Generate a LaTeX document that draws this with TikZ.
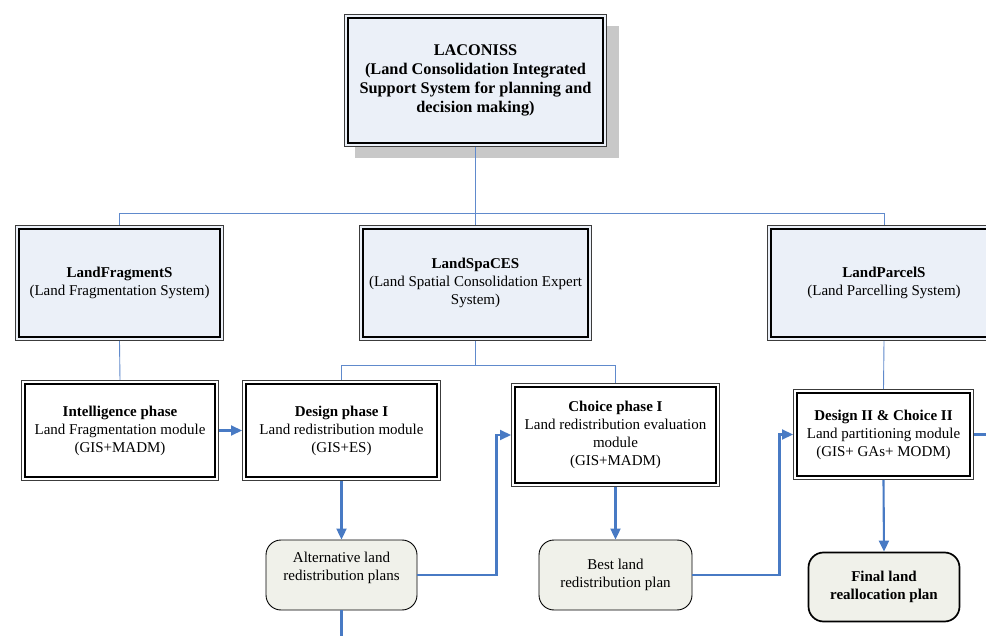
\documentclass[tikz,border=0pt]{standalone}
\usepackage{fontspec}
\setmainfont{Liberation Serif}
\usetikzlibrary{arrows.meta}
\definecolor{sysfill}{RGB}{235,240,248}
\definecolor{planfill}{RGB}{240,241,234}
\definecolor{treeblue}{RGB}{96,138,204}
\definecolor{arrblue}{RGB}{72,122,196}
\definecolor{shadowgray}{RGB}{200,200,200}
\definecolor{outerline}{RGB}{60,60,60}
\tikzset{
  dbl/.style={draw=outerline, line width=1pt, align=center, inner sep=2pt,
    path picture={\draw[black, line width=1.4pt]
      ([shift={(3.4pt,-3.4pt)}]path picture bounding box.north west) rectangle
      ([shift={(-3.4pt,3.4pt)}]path picture bounding box.south east);}},
  sysbox/.style={dbl, fill=sysfill, font=\fontsize{15}{18}\selectfont},
  modbox/.style={dbl, fill=white, font=\fontsize{15}{18}\selectfont},
  planbox/.style={draw=black, line width=0.9pt, fill=planfill, rounded corners=15pt, align=center, font=\fontsize{15}{18}\selectfont},
  tree/.style={draw=treeblue, line width=0.9pt},
  arr/.style={draw=arrblue, line width=2.1pt, -{Triangle[length=11pt,width=10pt]}},
  link/.style={draw=arrblue, line width=2.1pt},
}
\begin{document}
\begin{tikzpicture}[x=1pt, y=-1pt]
\clip (0,0) rectangle (986,636);
\fill[white] (0,0) rectangle (986,636);
% shadow of top box
\fill[shadowgray] (355,26) rectangle (619,158);
\node[sysbox, minimum width=262pt, minimum height=132pt, font=\bfseries\fontsize{16.3}{18.8}\selectfont] (top) at (475.5,80.5)
  {LACONISS\\(Land Consolidation Integrated\\Support System for planning and\\decision making)};
\node[sysbox, minimum width=208pt, minimum height=115pt] (lfs) at (119.5,283)
  {\textbf{LandFragmentS}\\(Land Fragmentation System)};
\node[sysbox, minimum width=232pt, minimum height=115pt] (lsc) at (475.5,283)
  {\textbf{LandSpaCES}\\(Land Spatial Consolidation Expert\\System)};
\node[sysbox, minimum width=233pt, minimum height=115pt] (lps) at (884,283)
  {\textbf{LandParcelS}\\(Land Parcelling System)};
\node[modbox, minimum width=197pt, minimum height=100pt] (intel) at (120,430.5)
  {\textbf{Intelligence phase}\\Land Fragmentation module\\(GIS+MADM)};
\node[modbox, minimum width=198pt, minimum height=100pt] (des1) at (341.5,430.5)
  {\textbf{Design phase I}\\Land redistribution module\\(GIS+ES)};
\node[modbox, minimum width=208pt, minimum height=103pt] (cho1) at (615.5,435)
  {\textbf{Choice phase I}\\Land redistribution evaluation\\module\\(GIS+MADM)};
\node[modbox, minimum width=180pt, minimum height=90pt] (des2) at (883.5,434.5)
  {\textbf{Design II \& Choice II}\\Land partitioning module\\(GIS+ GAs+ MODM)};
\node[planbox, minimum width=151pt, minimum height=70pt] (alt) at (341.5,575)
  {Alternative land\\redistribution plans\\\mbox{}};
\node[planbox, minimum width=153pt, minimum height=70pt] (best) at (615.5,575)
  {Best land\\redistribution plan};
\node[planbox, line width=1.7pt, minimum width=151pt, minimum height=69pt, font=\bfseries\fontsize{15}{18}\selectfont] (final) at (884,587)
  {Final land\\reallocation plan};
\coordinate (altout) at (341.5,645);
\coordinate (des2out) at (995,434.5);
% tree connectors
\draw[tree] (top.south) -- ++(0,66) -| (lfs.north);
\draw[tree] (top.south) -- (lsc.north);
\draw[tree] (top.south) -- ++(0,66) -| (lps.north);
\draw[tree] (lfs.south) -- (intel.north);
\draw[tree] (lsc.south) -- ++(0,24) -| (des1.north);
\draw[tree] (lsc.south) -- ++(0,24) -| (cho1.north);
\draw[tree] (lps.south) -- (des2.north);
% flow arrows
\draw[arr] (intel.east) -- (des1.west);
\draw[arr] (des1.south) -- (alt.north);
\draw[arr] (cho1.south) -- (best.north);
\draw[arr] (des2.south) -- (final.north);
\draw[arr] (alt.east) -- ++(79,0) |- (cho1.west);
\draw[arr] (best.east) -- ++(87,0) |- (des2.west);
\draw[link] (alt.south) -- (altout);
\draw[link] (des2.east) -- (des2out);
\end{tikzpicture}
\end{document}
